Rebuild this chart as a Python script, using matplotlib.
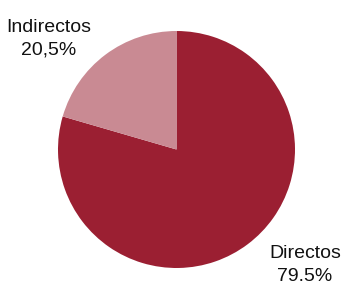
import matplotlib.pyplot as plt

categories = ['Directos', 'Indirectos']
shares = [79.5, 20.5]
share_labels = ['79.5%', '20,5%']
colors = ['#9B1F32', '#C98A93']

fig = plt.figure(figsize=(3.42, 2.88), dpi=100)
ax = fig.add_axes([58 / 342, 20 / 288, 237 / 342, 237 / 288])

# Directos starts at the top and runs clockwise
ax.pie(shares, colors=colors, startangle=90, counterclock=False,
       radius=1, wedgeprops={'linewidth': 0})
ax.set_xlim(-1, 1)
ax.set_ylim(-1, 1)

label_pos = [(1.084, -0.975), (-1.076, 0.937)]
for name, lab, (x, y) in zip(categories, share_labels, label_pos):
    ax.text(x, y, f'{name}\n{lab}', ha='center', va='center',
            fontsize=14, family='Liberation Sans', linespacing=1.4,
            color='#111111', clip_on=False)

fig.savefig('out.png', dpi=100)
